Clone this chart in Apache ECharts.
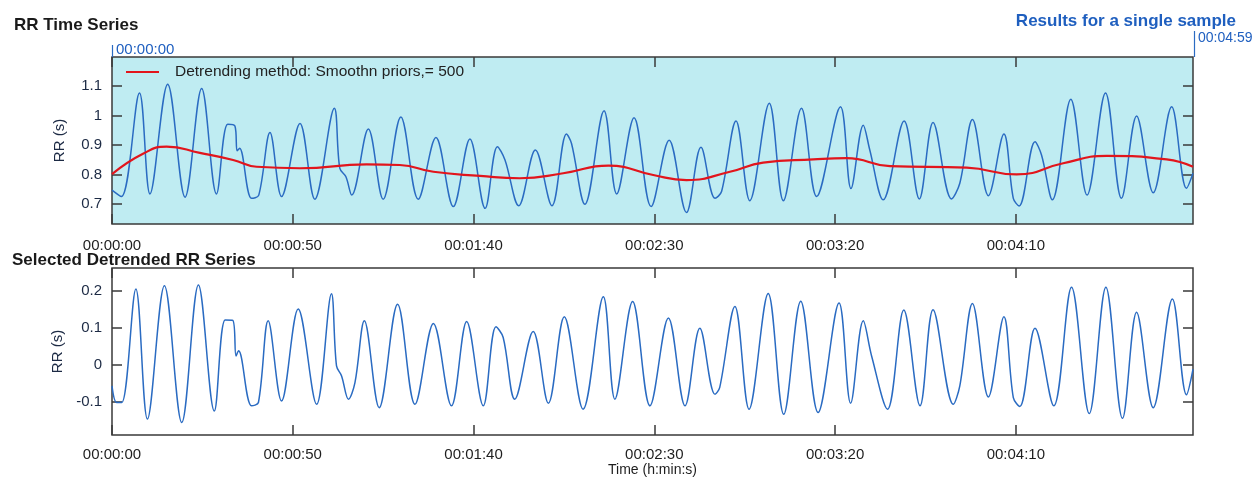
<!DOCTYPE html>
<html>
<head>
<meta charset="utf-8">
<script src="https://cdn.jsdelivr.net/npm/echarts@6/dist/echarts.min.js"></script>
<style>
html,body{margin:0;padding:0;background:#fff;}
#chart{width:1260px;height:484px;}
</style>
</head>
<body>
<div id="chart"></div>
<script>
// ---- Data ----
// RR time series (top panel): time in seconds, RR in seconds
const rrTime = [0,2.6,7.6,10.5,15.4,20.2,24.8,28.9,32.0,34.0,34.6,35.3,38.6,40.6,43.7,46.9,52.0,56.1,61.5,63.0,64.7,66.3,70.9,75.0,79.9,84.7,89.6,94.4,99.0,103.2,106.6,108.7,112.5,117.1,121.7,125.7,127.1,130.8,136.1,139.6,144.4,149.1,154.1,158.9,162.9,166.8,168.6,172.6,176.4,181.8,185.7,190.7,194.9,201.5,204.4,207.8,209.6,213.3,219.1,223.3,227.1,232.2,234.5,238.0,242.4,246.7,249.3,250.9,255.3,257.1,260.1,265.2,269.7,274.8,279.2,283.4,288.0,293.1,297.2,299.0];
const rrValue = [0.747,0.725,1.076,0.734,1.106,0.723,1.091,0.734,0.970,0.964,0.880,0.889,0.719,0.730,0.942,0.725,0.973,0.716,1.024,0.821,0.792,0.730,0.954,0.716,0.995,0.716,0.925,0.691,0.920,0.685,0.894,0.849,0.694,0.883,0.694,0.937,0.905,0.699,1.016,0.734,0.992,0.691,0.916,0.671,0.892,0.719,0.742,0.981,0.711,1.041,0.711,1.024,0.725,1.029,0.752,0.967,0.883,0.714,0.981,0.717,0.976,0.717,0.770,0.986,0.728,0.937,0.719,0.693,0.911,0.866,0.714,1.055,0.730,1.076,0.719,0.998,0.738,1.029,0.753,0.804];
// Smoothness priors trend (red)
const trendTime = [0,8.7,15.1,24.3,33.5,40.0,52.0,70.4,79.6,88.9,101.8,112.8,124.8,137.3,149.7,158.9,170.9,180.1,194.0,203.2,215.2,236.4,250.2,263.1,275.1,291.7,299.0];
const trendValue = [0.801,0.871,0.894,0.873,0.849,0.826,0.821,0.834,0.832,0.809,0.795,0.787,0.804,0.830,0.798,0.781,0.809,0.840,0.851,0.855,0.828,0.823,0.800,0.838,0.863,0.851,0.826];
// Detrended RR series (bottom panel)
const detTime = [0,1.3,2.7,6.6,9.8,14.5,19.3,23.9,28.3,31.3,33.4,34.3,35.0,38.6,40.5,43.2,46.9,51.5,56.6,60.7,62.1,63.5,65.4,67.2,69.8,73.9,79.0,83.8,88.9,93.9,98.1,102.7,106.2,108.2,111.4,116.5,120.7,125.1,130.3,135.9,139.1,144.0,148.8,153.9,158.5,162.6,166.8,168.1,172.3,176.2,181.5,185.8,190.5,195.3,201.1,204.3,207.8,210.1,214.5,219.0,223.5,227.1,232.7,234.5,238.0,242.4,246.7,249.3,251.1,255.3,260.5,265.4,270.3,274.9,279.5,283.4,288.0,293.3,297.2,299.0];
const detValue = [-0.057,-0.102,-0.102,0.205,-0.147,0.214,-0.156,0.216,-0.125,0.121,0.120,0.024,0.038,-0.111,-0.102,0.119,-0.098,0.151,-0.107,0.192,-0.003,-0.030,-0.093,-0.048,0.119,-0.116,0.164,-0.107,0.112,-0.111,0.117,-0.111,0.103,0.074,-0.093,0.090,-0.104,0.130,-0.120,0.184,-0.093,0.171,-0.111,0.127,-0.111,0.099,-0.080,-0.061,0.158,-0.120,0.193,-0.134,0.172,-0.129,0.167,-0.104,0.119,0.024,-0.120,0.148,-0.111,0.149,-0.107,-0.057,0.166,-0.087,0.130,-0.089,-0.113,0.099,-0.111,0.210,-0.132,0.210,-0.145,0.142,-0.116,0.178,-0.081,-0.012];
// Tick values
const timeTicks = [0,50,100,150,200,250];
const rrTicks = [0.7,0.8,0.9,1.0,1.1];
const detTicks = [-0.1,0,0.1,0.2];
const trendName = 'Detrending method: Smoothn priors,= 500';

// ---- Build chart ----
const pair = (a,b) => a.map((t,i)=>[t,b[i]]);
const fmtTime = v => {
  const s = Math.round(v);
  const h = Math.floor(s/3600), m = Math.floor((s%3600)/60), sec = s%60;
  const p = n => String(n).padStart(2,'0');
  return p(h)+':'+p(m)+':'+p(sec);
};
const FONT = 'Liberation Sans, Arial, sans-serif';
const frame = '#3a3a3a';
const tickStyle = {show:true, inside:true, length:10, lineStyle:{color:frame, width:1.5}};

function xAx(grid, pos, showLabel, margin, extra) {
  return Object.assign({
    type:'value', gridIndex:grid, position:pos, min:0, max:299,
    axisLine:{show:false, onZero:false}, splitLine:{show:false},
    axisTick:Object.assign({customValues:timeTicks}, tickStyle),
    axisLabel:{show:showLabel, customValues:timeTicks, formatter:fmtTime, margin:margin,
      fontFamily:FONT, fontSize:15, color:'#1e1e1e'}
  }, extra||{});
}
function yAx(grid, pos, showLabel, min, max, ticks) {
  return {
    type:'value', gridIndex:grid, position:pos, min:min, max:max,
    axisLine:{show:false, onZero:false}, splitLine:{show:false},
    axisTick:Object.assign({customValues:ticks}, tickStyle),
    axisLabel:{show:showLabel, customValues:ticks, margin:10, fontFamily:FONT, fontSize:15, color:'#1c2a44'},
    name: showLabel ? 'RR (s)' : '', nameLocation:'middle', nameGap:45, nameRotate:90,
    nameTextStyle:{fontFamily:FONT, fontSize:15, color:'#1c2a44'}
  };
}

const chart = echarts.init(document.getElementById('chart'));
chart.setOption({
  animation:false,
  backgroundColor:'#ffffff',
  title:[
    {text:'RR Time Series', left:9, top:12, textStyle:{fontFamily:FONT, fontSize:17, fontWeight:'bold', color:'#1a1a1a'}},
    {text:'Results for a single sample', right:19, top:8, textStyle:{fontFamily:FONT, fontSize:17, fontWeight:'bold', color:'#1f5fbf'}},
    {text:'Selected Detrended RR Series', left:7, top:247, textStyle:{fontFamily:FONT, fontSize:17, fontWeight:'bold', color:'#1a1a1a'}}
  ],
  legend:{
    data:[trendName], left:121, top:59, itemWidth:33, itemHeight:2, icon:'rect',
    textStyle:{fontFamily:FONT, fontSize:15.5, color:'#222', padding:[0,0,0,11]}
  },
  grid:[
    {left:112, top:57, width:1081, height:167, show:true, backgroundColor:'#bfecf2', borderColor:frame, borderWidth:1.5},
    {left:112, top:268, width:1081, height:167, show:true, backgroundColor:'#ffffff', borderColor:frame, borderWidth:1.5}
  ],
  xAxis:[
    xAx(0,'bottom',true,14),
    xAx(0,'top',false,8),
    xAx(1,'bottom',true,12,{name:'Time (h:min:s)', nameLocation:'middle', nameGap:26,
      nameTextStyle:{fontFamily:FONT, fontSize:14, color:'#1e1e1e'}}),
    xAx(1,'top',false,8)
  ],
  yAxis:[
    yAx(0,'left',true,0.632,1.198,rrTicks),
    yAx(0,'right',false,0.632,1.198,rrTicks),
    yAx(1,'left',true,-0.19,0.262,detTicks),
    yAx(1,'right',false,-0.19,0.262,detTicks)
  ],
  series:[
    {type:'line', name:'RR', xAxisIndex:0, yAxisIndex:0, data:pair(rrTime,rrValue),
      showSymbol:false, smooth:0.35, lineStyle:{color:'#2a6bc2', width:1.5}, z:2},
    {type:'line', name:trendName, xAxisIndex:0, yAxisIndex:0, data:pair(trendTime,trendValue),
      showSymbol:false, smooth:0.5, lineStyle:{color:'#e2151c', width:2.2}, itemStyle:{color:'#e2151c'}, z:3},
    {type:'line', name:'Detrended', xAxisIndex:2, yAxisIndex:2, data:pair(detTime,detValue),
      showSymbol:false, smooth:0.35, lineStyle:{color:'#2a6bc2', width:1.5}, z:2}
  ],
  graphic:[
    {type:'line', shape:{x1:112.5, y1:45, x2:112.5, y2:57}, style:{stroke:'#2a6bc2', lineWidth:1.2}},
    {type:'text', x:116, y:50, style:{text:'00:00:00', fontFamily:FONT, fontSize:15, fill:'#2060c0', verticalAlign:'middle'}},
    {type:'line', shape:{x1:1194.5, y1:31, x2:1194.5, y2:57}, style:{stroke:'#2a6bc2', lineWidth:1.2}},
    {type:'text', x:1198, y:38, style:{text:'00:04:59', fontFamily:FONT, fontSize:14, fill:'#2060c0', verticalAlign:'middle'}}
  ]
});
</script>
</body>
</html>
